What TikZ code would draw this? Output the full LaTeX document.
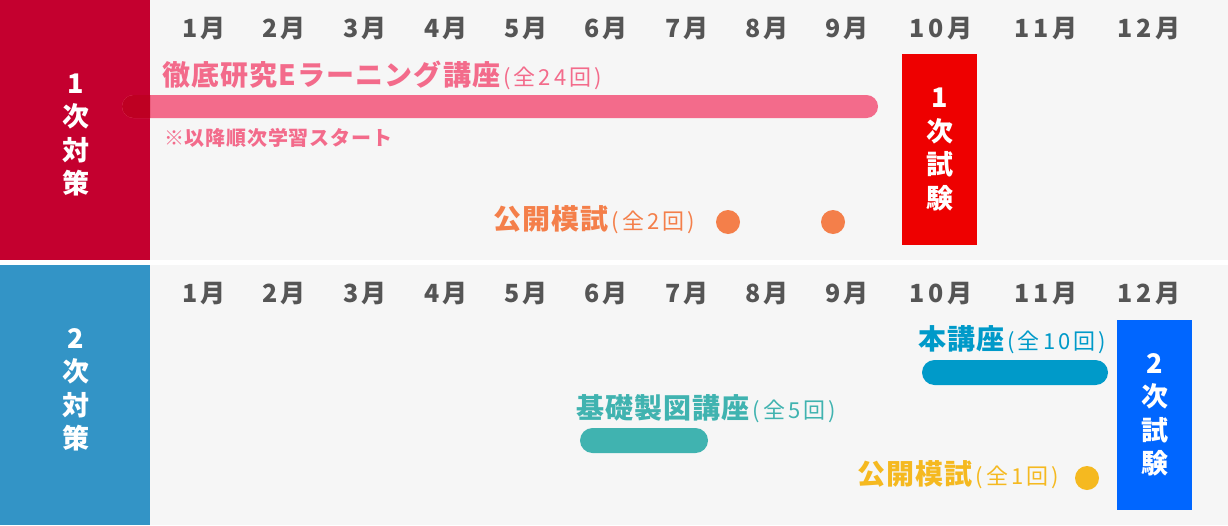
\documentclass[tikz,border=0pt]{standalone}
\usepackage{fontspec}
\newfontfamily\jp{Noto Sans CJK JP}
\newfontfamily\jpm{Noto Sans CJK JP}[LetterSpace=15]
\newfontfamily\jpt{Noto Sans CJK JP}[LetterSpace=4]
\newfontfamily\jps{Noto Sans CJK JP}[LetterSpace=14]
\newfontfamily\jpn{Noto Sans CJK JP}[LetterSpace=4]
\definecolor{bg}{HTML}{F6F6F6}
\definecolor{panelred}{HTML}{C4002F}
\definecolor{panelblue}{HTML}{3394C6}
\definecolor{barpink}{HTML}{F36B8B}
\definecolor{darkpink}{HTML}{BE0022}
\definecolor{examred}{HTML}{EE0000}
\definecolor{examblue}{HTML}{0066FF}
\definecolor{mockorange}{HTML}{F47F4A}
\definecolor{mockyellow}{HTML}{F5B920}
\definecolor{courseblue}{HTML}{009AC9}
\definecolor{courseteal}{HTML}{40B3B0}
\definecolor{monthgray}{HTML}{555555}
\tikzset{
  month/.style={font=\jpm\bfseries\fontsize{25}{25}\selectfont, text=monthgray, inner sep=0pt},
  vlabel/.style={font=\jp\bfseries\fontsize{27}{33.5}\selectfont, text=white, align=center, inner sep=0pt},
  title/.style={anchor=west, inner sep=0pt, font=\jpt\bfseries\fontsize{28}{28}\selectfont},
  dot/.style={circle, minimum size=24pt, inner sep=0pt},
}
\newcommand{\sub}[1]{\hspace{3pt}{\jps\mdseries\fontsize{22}{22}\selectfont #1}}
\begin{document}
\begin{tikzpicture}[x=1pt,y=-1pt]
\useasboundingbox (0,0) rectangle (1228,525);
\fill[white] (0,0) rectangle (1228,525);
\fill[bg] (150,0) rectangle (1228,260);
\fill[bg] (150,265) rectangle (1228,525);
\fill[panelred] (0,0) rectangle (150,260);
\fill[panelblue] (0,265) rectangle (150,525);

% side labels
\node[vlabel] (p1) at (76,135) {1\\次\\対\\策};
\node[vlabel] (p2) at (76,390) {2\\次\\対\\策};

% months
\foreach \m/\x in {1/204,2/284,3/365,4/446,5/526,6/606,7/687,8/767,9/847,10/941,11/1046,12/1149}{
  \node[month] (ma\m) at (\x,29) {\m{}月};
  \node[month] (mb\m) at (\x,294) {\m{}月};
}

% e-learning bar
\fill[barpink, rounded corners=11.5pt] (122,95) rectangle (878,118);
\begin{scope}
  \clip (0,0) rectangle (150,260);
  \fill[darkpink, rounded corners=11.5pt] (122,95) rectangle (878,118);
\end{scope}
\node[title, text=barpink] (elearn) at (162,75) {徹底研究Eラーニング講座\sub{(全24回)}};
\node[anchor=west, inner sep=0pt, text=barpink, font=\jpn\bfseries\fontsize{20}{20}\selectfont] (note) at (164,138) {※以降順次学習スタート};

% mock exams 1
\node[title, text=mockorange] (mock1) at (493,220) {公開模試\sub{(全2回)}};
\node[dot, fill=mockorange] (d1) at (728,222) {};
\node[dot, fill=mockorange] (d2) at (833,222) {};

% exam 1
\node[fill=examred, minimum width=75pt, minimum height=191pt, inner sep=0pt] (ex1) at (939.5,149.5) {};
\node[vlabel] (ex1t) at (ex1) {1\\次\\試\\験};

% course
\node[title, text=courseblue] (course) at (918,340) {本講座\sub{(全10回)}};
\fill[courseblue, rounded corners=12.5pt] (922,360) rectangle (1108,385);

\node[title, text=courseteal] (basic) at (576,409) {基礎製図講座\sub{(全5回)}};
\fill[courseteal, rounded corners=12.5pt] (580,428) rectangle (708,453);

\node[title, text=mockyellow] (mock2) at (857,475) {公開模試\sub{(全1回)}};
\node[dot, fill=mockyellow] (d3) at (1087,478) {};

% exam 2
\node[fill=examblue, minimum width=75pt, minimum height=190pt, inner sep=0pt] (ex2) at (1154.5,415) {};
\node[vlabel] (ex2t) at (ex2) {2\\次\\試\\験};
\end{tikzpicture}
\end{document}
